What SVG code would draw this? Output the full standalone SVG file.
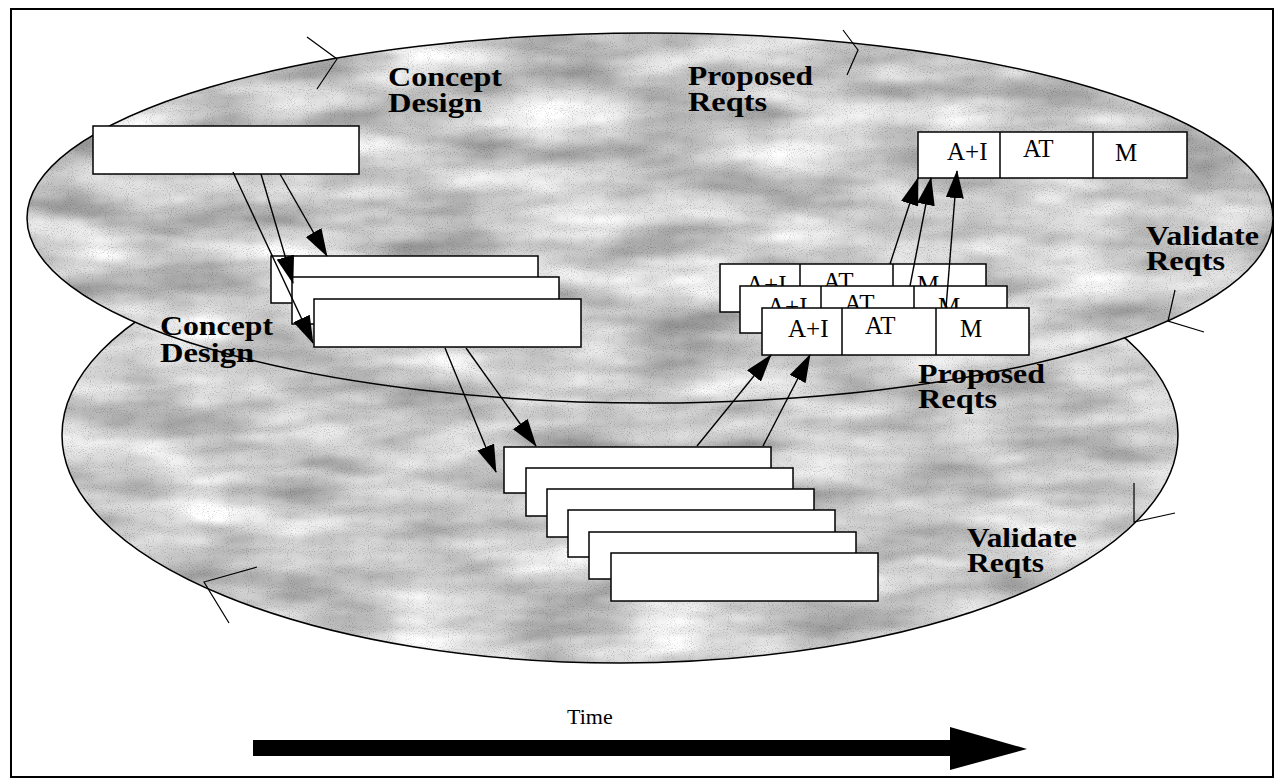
<svg xmlns="http://www.w3.org/2000/svg" width="1280" height="781" viewBox="0 0 1280 781">
<defs>
<style>
.lbl{font-family:"Liberation Serif","Times New Roman",serif;font-weight:bold;font-size:28px;fill:#000}
.cell{font-family:"Liberation Serif","Times New Roman",serif;font-size:25px;fill:#000}
.box{fill:#fff;stroke:#000;stroke-width:1.5}
.div{stroke:#000;stroke-width:1.5}
.edge{fill:none;stroke:#000;stroke-width:1.5}
.tick{fill:none;stroke:#000;stroke-width:1.2}
.conn line{stroke:#000;stroke-width:1.4;marker-end:url(#ah)}
</style>
<filter id="mottle" x="0" y="0" width="1" height="1" color-interpolation-filters="sRGB">
<feTurbulence type="fractalNoise" baseFrequency="0.008 0.03" numOctaves="3" seed="4" result="n1"/>
<feColorMatrix in="n1" type="matrix" values="0.6 0 0 0 0.5  0.6 0 0 0 0.5  0.6 0 0 0 0.5  0 0 0 0 1" result="g1"/>
<feTurbulence type="fractalNoise" baseFrequency="0.95" numOctaves="1" seed="9" result="n2"/>
<feColorMatrix in="n2" type="matrix" values="0.8 0 0 0 0.64  0.8 0 0 0 0.64  0.8 0 0 0 0.64  0 0 0 0 1" result="g2"/>
<feBlend in="g1" in2="g2" mode="multiply" result="b"/>
<feComposite in="b" in2="SourceGraphic" operator="in"/>
</filter>
<marker id="ah" markerUnits="userSpaceOnUse" markerWidth="28" markerHeight="18" refX="27" refY="9" orient="auto" viewBox="0 0 28 18">
<path d="M0,0 L28,9 L0,18 Z" fill="#000"/>
</marker>
</defs>
<rect x="0" y="0" width="1280" height="781" fill="#fff"/>
<rect x="11" y="9" width="1262" height="768" fill="none" stroke="#000" stroke-width="2"/>

<g id="lower-phase">
<ellipse cx="620" cy="435" rx="558" ry="228" fill="#c8c8c8" filter="url(#mottle)"/>
<ellipse cx="620" cy="435" rx="558" ry="228" class="edge"/>
<polyline class="tick" points="257,567 204,582 229,623"/>
<polyline class="tick" points="1134,483 1134,522 1175,513"/>
</g>
<g id="upper-phase">
<ellipse cx="650" cy="218" rx="623" ry="185" fill="#c8c8c8" filter="url(#mottle)"/>
<ellipse cx="650" cy="218" rx="623" ry="185" class="edge"/>
<polyline class="tick" points="307,37 337,59 317,89"/>
<polyline class="tick" points="843,30 858,50 847,75"/>
<polyline class="tick" points="1175,290 1168,321 1204,332"/>
</g>

<g id="labels">
<text class="lbl" x="388" y="86" textLength="114" lengthAdjust="spacingAndGlyphs">Concept</text>
<text class="lbl" x="388" y="112" textLength="94" lengthAdjust="spacingAndGlyphs">Design</text>
<text class="lbl" x="688" y="85" textLength="125" lengthAdjust="spacingAndGlyphs">Proposed</text>
<text class="lbl" x="688" y="111" textLength="79" lengthAdjust="spacingAndGlyphs">Reqts</text>
<text class="lbl" x="1146" y="245" textLength="113" lengthAdjust="spacingAndGlyphs">Validate</text>
<text class="lbl" x="1146" y="270" textLength="79" lengthAdjust="spacingAndGlyphs">Reqts</text>
<text class="lbl" x="160" y="335" textLength="113" lengthAdjust="spacingAndGlyphs">Concept</text>
<text class="lbl" x="160" y="362" textLength="94" lengthAdjust="spacingAndGlyphs">Design</text>
<text class="lbl" x="918" y="383" textLength="127" lengthAdjust="spacingAndGlyphs">Proposed</text>
<text class="lbl" x="918" y="408" textLength="79" lengthAdjust="spacingAndGlyphs">Reqts</text>
<text class="lbl" x="967" y="547" textLength="110" lengthAdjust="spacingAndGlyphs">Validate</text>
<text class="lbl" x="967" y="572" textLength="77" lengthAdjust="spacingAndGlyphs">Reqts</text>
</g>

<g id="concept-top">
<rect class="box" x="93" y="126" width="266" height="48"/>
</g>
<g id="concept-stack">
<rect class="box" x="271" y="256" width="267" height="47"/>
<rect class="box" x="292" y="277" width="267" height="47"/>
<rect class="box" x="314" y="299" width="267" height="48"/>
</g>
<g id="design-stack">
<rect class="box" x="504" y="447" width="267" height="46"/>
<rect class="box" x="526" y="468" width="267" height="48"/>
<rect class="box" x="547" y="489" width="267" height="48"/>
<rect class="box" x="568" y="510" width="267" height="47"/>
<rect class="box" x="589" y="532" width="267" height="47"/>
<rect class="box" x="611" y="553" width="267" height="48"/>
</g>
<g id="reqts-stack">
<g>
<rect class="box" x="720" y="264" width="266" height="48"/>
<line class="div" x1="800" y1="264" x2="800" y2="312"/>
<line class="div" x1="893" y1="264" x2="893" y2="312"/>
<text class="cell" x="746" y="293">A+I</text>
<text class="cell" x="823" y="290">AT</text>
<text class="cell" x="917" y="293">M</text>
</g>
<g>
<rect class="box" x="740" y="286" width="267" height="47"/>
<line class="div" x1="821" y1="286" x2="821" y2="333"/>
<line class="div" x1="914" y1="286" x2="914" y2="333"/>
<text class="cell" x="767" y="315">A+I</text>
<text class="cell" x="844" y="312">AT</text>
<text class="cell" x="938" y="315">M</text>
</g>
<g>
<rect class="box" x="762" y="308" width="267" height="47"/>
<line class="div" x1="842" y1="308" x2="842" y2="355"/>
<line class="div" x1="936" y1="308" x2="936" y2="355"/>
<text class="cell" x="788" y="337">A+I</text>
<text class="cell" x="865" y="334">AT</text>
<text class="cell" x="960" y="337">M</text>
</g>
</g>
<g id="reqts-top">
<rect class="box" x="918" y="132" width="269" height="46"/>
<line class="div" x1="1000" y1="132" x2="1000" y2="178"/>
<line class="div" x1="1093" y1="132" x2="1093" y2="178"/>
<text class="cell" x="947" y="160">A+I</text>
<text class="cell" x="1023" y="157">AT</text>
<text class="cell" x="1115" y="161">M</text>
</g>

<g id="connectors" class="conn">
<line x1="233" y1="172" x2="313" y2="343"/>
<line x1="261" y1="174" x2="293" y2="283"/>
<line x1="280" y1="174" x2="327" y2="256"/>
<line x1="445" y1="348" x2="496" y2="472"/>
<line x1="466" y1="348" x2="536" y2="446"/>
<line x1="697" y1="446" x2="771" y2="355"/>
<line x1="763" y1="446" x2="810" y2="355"/>
<line x1="890" y1="264" x2="918" y2="178"/>
<line x1="910" y1="286" x2="931" y2="178"/>
<line x1="946" y1="308" x2="957" y2="171"/>
</g>

<g id="time">
<text x="567" y="724" font-family="Liberation Serif, Times New Roman, serif" font-size="22">Time</text>
<path d="M253,740 L950,740 L950,727 L1027,749 L950,770 L950,756 L253,756 Z" fill="#000"/>
</g>
</svg>
